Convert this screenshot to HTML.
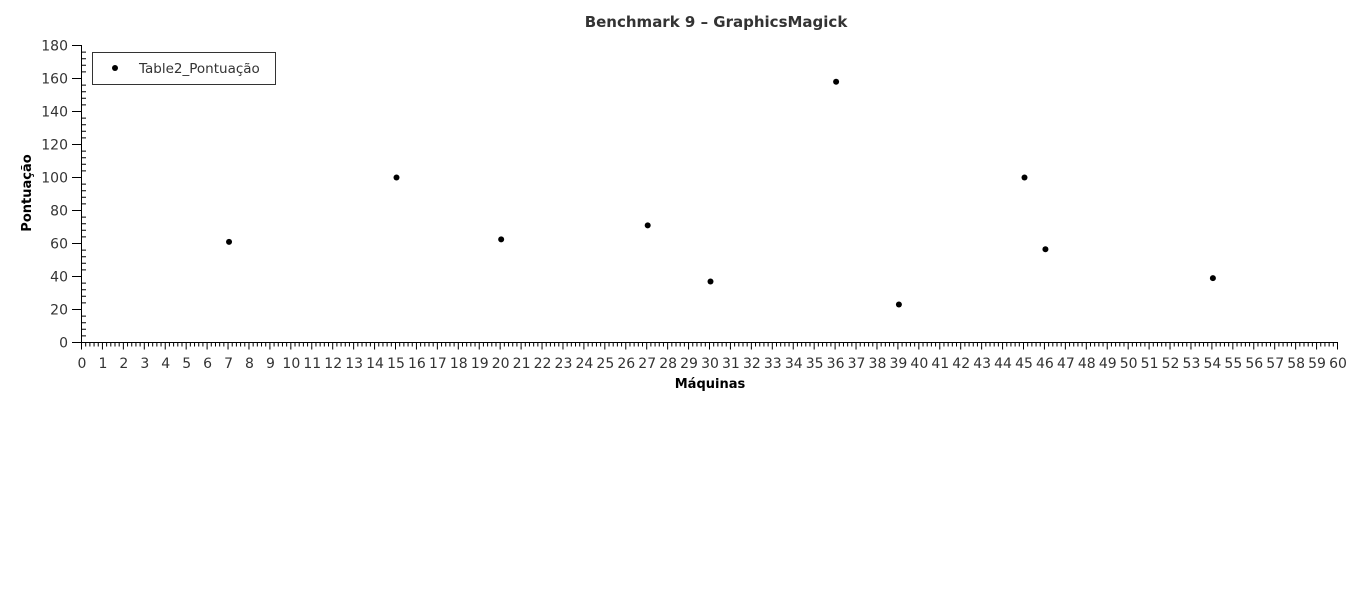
<!DOCTYPE html>
<html><head><meta charset="utf-8"><style>
body{margin:0;background:#fff;width:1366px;height:592px;overflow:hidden}
text{font-family:"DejaVu Sans","Liberation Sans",sans-serif;fill:#333}
</style></head><body>
<svg id="chart" width="1366" height="592" xmlns="http://www.w3.org/2000/svg">
<text x="716" y="27" text-anchor="middle" font-size="15" font-weight="bold">Benchmark 9 – GraphicsMagick</text>
<text transform="translate(31,193) rotate(-90)" text-anchor="middle" font-size="13" font-weight="bold" style="fill:#000">Pontuação</text>
<text x="710" y="388" text-anchor="middle" font-size="13" font-weight="bold" style="fill:#000">Máquinas</text>
<g id="axes"></g>
<g id="points"></g>
<g>
<rect x="92.5" y="52.5" width="183" height="32" fill="#fff" stroke="#333" stroke-width="1"/>
<circle cx="115" cy="68" r="3" fill="#000"/>
<text x="139" y="73" font-size="13.5">Table2_Pontuação</text>
</g>
</svg>
<script>
const xValues=[7,15,20,27,30,36,39,45,46,54];
const yValues=[61,100,62.5,71,37,158,23,100,56.5,39];
const xTicks=[...Array(61).keys()];
const yTicks=[0,20,40,60,80,100,120,140,160,180];
const NS="http://www.w3.org/2000/svg";
const X0=82,X1=1338,Y0=342.5,Y1=45.5;
const sx=v=>X0+(X1-X0)*v/60;
const sy=v=>Y0-(Y0-Y1)*v/180;
const ax=document.getElementById('axes');
function el(t,a,p){const e=document.createElementNS(NS,t);for(const k in a)e.setAttribute(k,a[k]);p.appendChild(e);return e;}
let d=`M${X0-0.5} ${Y1}V${Y0}H${X1}`;
xTicks.forEach(v=>{const x=sx(v)-0.5;d+=`M${x} ${Y0}v7`;
 if(v<60)for(let i=1;i<5;i++){d+=`M${sx(v+i/5)-0.5} ${Y0}v4`;}
 const t=el('text',{x:sx(v),y:368,'text-anchor':'middle','font-size':14},ax);t.textContent=v;
 
 
});
yTicks.forEach(v=>{const y=sy(v);d+=`M${X0-10} ${y}h10`;
 if(v<180)for(let i=1;i<5;i++){d+=`M${X0} ${sy(v+i*4)}h4`;}
 const t=el('text',{x:X0-14,y:y+5,'text-anchor':'end','font-size':14},ax);t.textContent=v;
 
 
});
const p=el('path',{d:d,stroke:'#000','stroke-width':1,fill:'none'},ax);


const pg=document.getElementById('points');
xValues.forEach((v,i)=>{const c=el('circle',{cx:sx(v)+0.5,cy:sy(yValues[i]),r:3,fill:'#000'},pg);
 
 
});
</script>
</body></html>
